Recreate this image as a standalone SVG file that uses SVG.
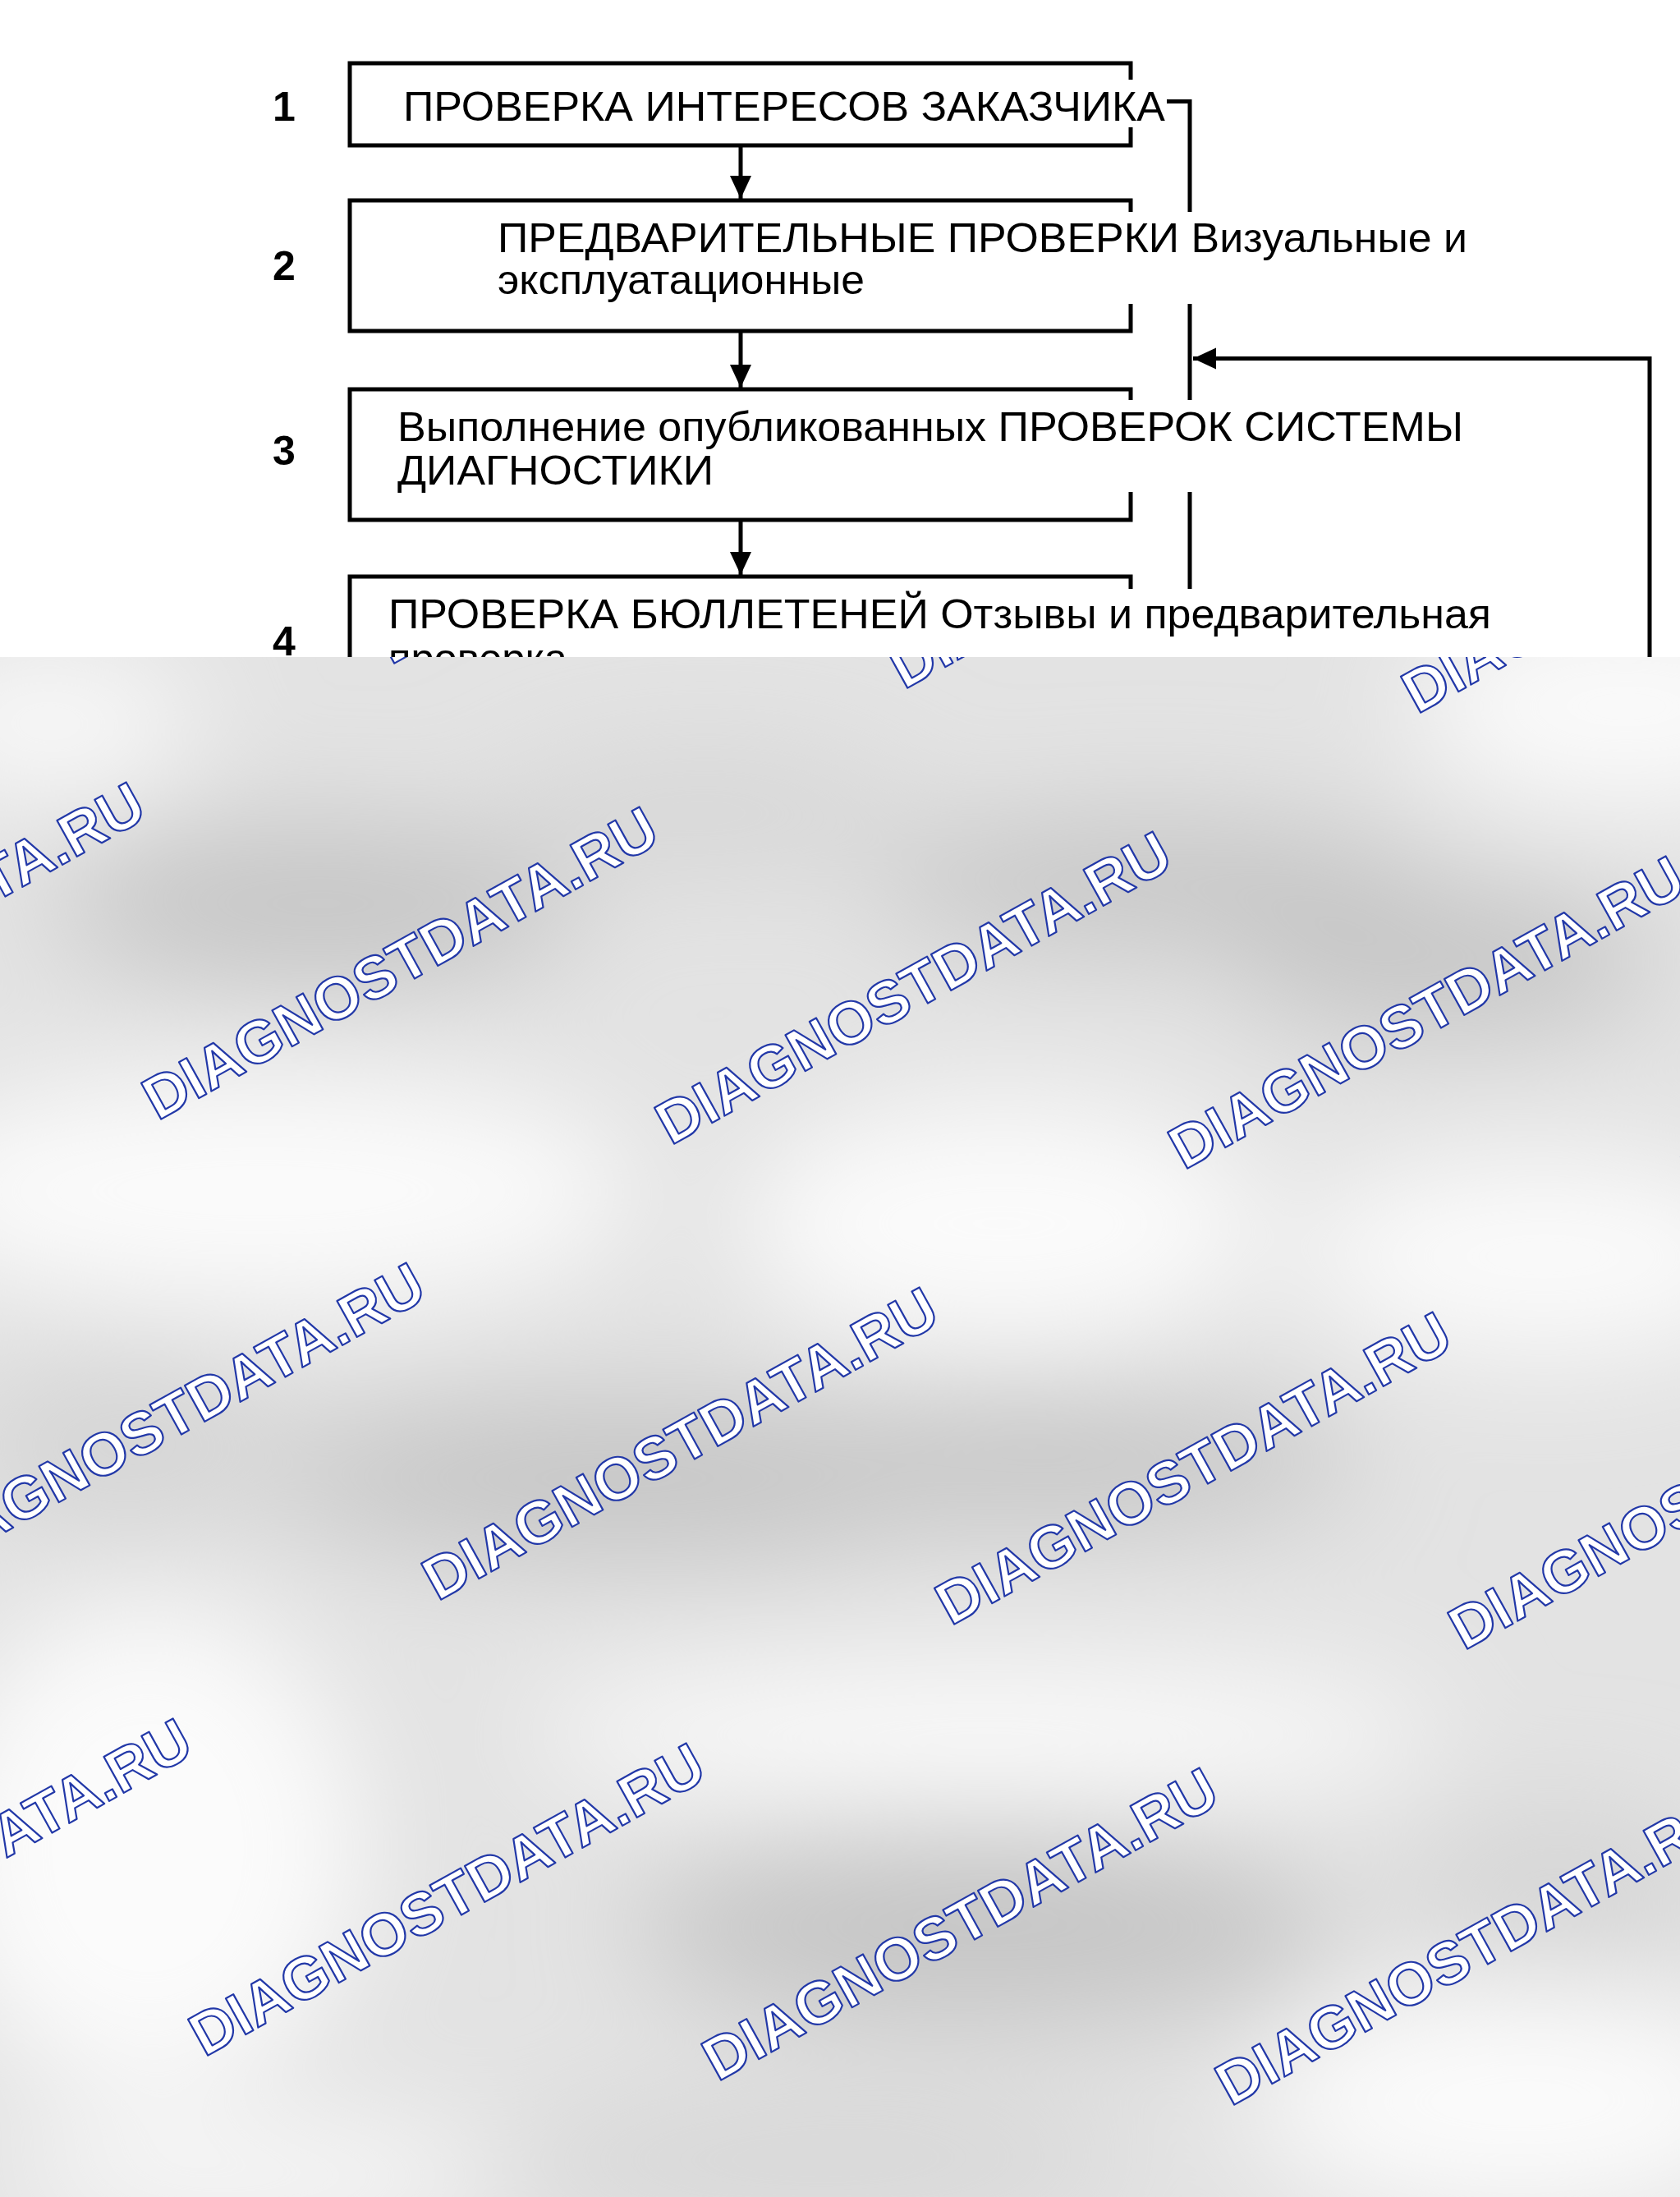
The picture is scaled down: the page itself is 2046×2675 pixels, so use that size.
<svg xmlns="http://www.w3.org/2000/svg" xmlns:xlink="http://www.w3.org/1999/xlink" width="2046" height="2675" viewBox="0 0 2046 2675">
<style>
.box{fill:none;stroke:#000;stroke-width:5}
.bg{fill:#fff}
.ln{fill:none;stroke:#000;stroke-width:5}
.t{font-family:"Liberation Sans",Arial,Helvetica,sans-serif;font-size:50px;fill:#000}
.num{font-family:"Liberation Sans",Arial,Helvetica,sans-serif;font-size:50px;font-weight:bold;text-anchor:middle;fill:#000}
.wm{font-family:"Liberation Sans",Arial,Helvetica,sans-serif;font-weight:bold;font-size:73px;fill:#fff;stroke:#2238a8;stroke-width:2.2;stroke-linejoin:round}
.dk{fill:#c6c6c6}
.md{fill:#d6d6d6}
.lt{fill:#fbfbfb}
</style>
<defs>
<marker id="ah" markerUnits="userSpaceOnUse" markerWidth="30" markerHeight="28" refX="28" refY="14" orient="auto">
<path d="M0,1 L28,14 L0,27 z" fill="#000"/>
</marker>
<filter id="blur" filterUnits="userSpaceOnUse" x="-300" y="500" width="2646" height="2500">
<feGaussianBlur stdDeviation="70"/>
</filter>
<clipPath id="lower"><rect x="0" y="800" width="2046" height="1875"/></clipPath>
<clipPath id="upper"><rect x="0" y="0" width="2046" height="800"/></clipPath>
<text id="wm" class="wm" x="0" y="0">DIAGNOSTDATA.RU</text>
</defs>
<rect x="0" y="0" width="2046" height="2675" fill="#fff"/>
<g id="watermark-area" clip-path="url(#lower)">
<rect x="0" y="800" width="2046" height="1875" fill="#e3e3e3"/>
<g filter="url(#blur)">
<ellipse class="dk" cx="390" cy="1100" rx="320" ry="100"/>
<ellipse class="dk" cx="1400" cy="1075" rx="340" ry="80"/>
<ellipse class="dk" cx="1760" cy="1170" rx="260" ry="90"/>
<ellipse class="md" cx="860" cy="990" rx="250" ry="70"/>
<ellipse class="dk" cx="760" cy="1800" rx="430" ry="100"/>
<ellipse class="dk" cx="1280" cy="1780" rx="380" ry="80"/>
<ellipse class="md" cx="150" cy="1760" rx="200" ry="110"/>
<ellipse class="dk" cx="1200" cy="2350" rx="430" ry="120"/>
<ellipse class="md" cx="1000" cy="2630" rx="380" ry="70"/>
<ellipse class="md" cx="1900" cy="2300" rx="200" ry="100"/>
<ellipse class="lt" cx="320" cy="1450" rx="460" ry="140"/>
<ellipse class="lt" cx="1220" cy="1490" rx="320" ry="150"/>
<ellipse class="lt" cx="1880" cy="1530" rx="300" ry="120"/>
<ellipse class="lt" cx="180" cy="2250" rx="260" ry="300"/>
<ellipse class="lt" cx="1200" cy="2110" rx="560" ry="80"/>
<ellipse class="lt" cx="1980" cy="860" rx="260" ry="120"/>
<ellipse class="lt" cx="60" cy="880" rx="180" ry="80"/>
<ellipse class="lt" cx="1850" cy="2560" rx="320" ry="140"/>
<ellipse class="lt" cx="300" cy="2650" rx="300" ry="60"/>
</g>
<g id="watermarks">
<use xlink:href="#wm" href="#wm" transform="translate(476,810) rotate(-29)"/>
<use xlink:href="#wm" href="#wm" transform="translate(1101,840) rotate(-29)"/>
<use xlink:href="#wm" href="#wm" transform="translate(1726,870) rotate(-29)"/>
<use xlink:href="#wm" href="#wm" transform="translate(-433,1335) rotate(-29)"/>
<use xlink:href="#wm" href="#wm" transform="translate(192,1365) rotate(-29)"/>
<use xlink:href="#wm" href="#wm" transform="translate(817,1395) rotate(-29)"/>
<use xlink:href="#wm" href="#wm" transform="translate(1442,1425) rotate(-29)"/>
<use xlink:href="#wm" href="#wm" transform="translate(2067,1455) rotate(-29)"/>
<use xlink:href="#wm" href="#wm" transform="translate(-92,1920) rotate(-29)"/>
<use xlink:href="#wm" href="#wm" transform="translate(533,1950) rotate(-29)"/>
<use xlink:href="#wm" href="#wm" transform="translate(1158,1980) rotate(-29)"/>
<use xlink:href="#wm" href="#wm" transform="translate(1783,2010) rotate(-29)"/>
<use xlink:href="#wm" href="#wm" transform="translate(-376,2475) rotate(-29)"/>
<use xlink:href="#wm" href="#wm" transform="translate(249,2505) rotate(-29)"/>
<use xlink:href="#wm" href="#wm" transform="translate(874,2535) rotate(-29)"/>
<use xlink:href="#wm" href="#wm" transform="translate(1499,2565) rotate(-29)"/>
<use xlink:href="#wm" href="#wm" transform="translate(-35,3060) rotate(-29)"/>
</g>
</g>
<g id="diagram" clip-path="url(#upper)">
<g id="connectors">
<line class="ln" x1="902" y1="179" x2="902" y2="242" marker-end="url(#ah)"/>
<line class="ln" x1="902" y1="405" x2="902" y2="472" marker-end="url(#ah)"/>
<line class="ln" x1="902" y1="635" x2="902" y2="700" marker-end="url(#ah)"/>
<path class="ln" d="M1421,123.5 H1449 V800"/>
<path class="ln" d="M2009,800 V436.5 H1453" marker-end="url(#ah)"/>
</g>
<g id="node1">
<rect class="box" x="426" y="77" width="951" height="100"/>
<rect class="bg" x="470" y="97" width="950" height="58"/>
<text class="num" x="346" y="147">1</text>
<text class="t" x="491" y="147" font-size="52" textLength="928" lengthAdjust="spacingAndGlyphs">ПРОВЕРКА ИНТЕРЕСОВ ЗАКАЗЧИКА</text>
</g>
<g id="node2">
<rect class="box" x="426" y="244" width="951" height="159"/>
<rect class="bg" x="590" y="258" width="1210" height="112"/>
<text class="num" x="346" y="341">2</text>
<text class="t" x="606" y="307" textLength="1181" lengthAdjust="spacingAndGlyphs">ПРЕДВАРИТЕЛЬНЫЕ ПРОВЕРКИ Визуальные и</text>
<text class="t" x="606" y="358" textLength="447" lengthAdjust="spacingAndGlyphs">эксплуатационные</text>
</g>
<g id="node3">
<rect class="box" x="426" y="474" width="951" height="159"/>
<rect class="bg" x="470" y="487" width="1330" height="112"/>
<text class="num" x="346" y="566">3</text>
<text class="t" x="484" y="537" textLength="1298" lengthAdjust="spacingAndGlyphs">Выполнение опубликованных ПРОВЕРОК СИСТЕМЫ</text>
<text class="t" x="484" y="590" textLength="385" lengthAdjust="spacingAndGlyphs">ДИАГНОСТИКИ</text>
</g>
<g id="node4">
<rect class="box" x="426" y="702" width="951" height="160"/>
<rect class="bg" x="460" y="717" width="1370" height="120"/>
<text class="num" x="346" y="798">4</text>
<text class="t" x="473" y="765" textLength="1343" lengthAdjust="spacingAndGlyphs">ПРОВЕРКА БЮЛЛЕТЕНЕЙ Отзывы и предварительная</text>
<text class="t" x="473" y="819" textLength="218" lengthAdjust="spacingAndGlyphs">проверка</text>
</g>
</g>
</svg>
